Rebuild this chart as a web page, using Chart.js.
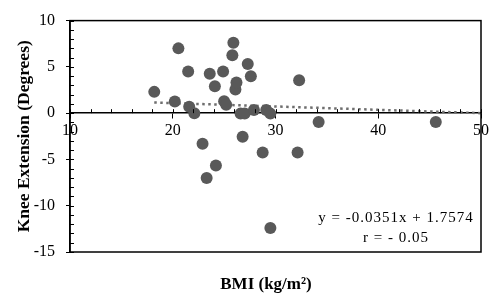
<!DOCTYPE html>
<html>
<head>
<meta charset="utf-8">
<script src="https://cdn.jsdelivr.net/npm/chart.js@4.4.0/dist/chart.umd.min.js"></script>
<style>
  html, body { margin: 0; padding: 0; background: #fff; }
  canvas { display: block; }
</style>
</head>
<body>
<canvas id="bmi-chart" width="497" height="296"></canvas>
<script>
// --- DATOS ---
const bmiValues  = [18.2, 20.2, 20.55, 21.5, 21.6, 22.1, 22.9, 23.3, 23.6, 24.1, 24.2, 24.9, 25.0, 25.2, 25.8, 25.9,
                    26.1, 26.2, 26.6, 26.8, 27.0, 27.3, 27.6, 27.9, 28.75, 29.1, 29.5, 29.5, 32.15, 32.3, 34.2, 45.6];
const kneeValues = [2.3, 1.25, 7.0, 4.5, 0.7, 0.0, -3.3, -7.0, 4.25, 2.9, -5.65, 4.5, 1.3, 0.9, 6.25, 7.6,
                    2.55, 3.3, -0.05, -2.55, -0.05, 5.3, 4.0, 0.35, -4.25, 0.35, -0.05, -12.4, -4.25, 3.55, -0.95, -0.95];
const trendBmi  = [18.2, 50];
const trendKnee = [1.15, 0.0];
const xTicks = [10, 20, 30, 40, 50];
const yTicks = [-15, -10, -5, 0, 5, 10];
const equationLines = ['y = -0.0351x + 1.7574', 'r = - 0.05'];
const xTitle = 'BMI (kg/m²)';

const SERIF = "'Liberation Serif', 'Times New Roman', serif";

// marco, marcas menores, título X y ecuación
const extrasPlugin = {
    id: 'extras',
    afterDraw(chart) {
        const { ctx, chartArea: a, scales } = chart;
        const xs = scales.x, ys = scales.y;
        ctx.save();
        ctx.strokeStyle = '#000';
        ctx.lineWidth = 1.5;
        ctx.strokeRect(a.left, a.top, a.right - a.left, a.bottom - a.top);

        ctx.lineWidth = 1;
        ctx.beginPath();
        for (let v = yTicks[0]; v <= yTicks[yTicks.length - 1]; v += 1) {
            const py = Math.round(ys.getPixelForValue(v)) + 0.5;
            ctx.moveTo(a.left, py);
            ctx.lineTo(a.left + 4, py);
        }
        const y0 = ys.getPixelForValue(0);
        for (let v = xTicks[0]; v <= xTicks[xTicks.length - 1]; v += 2) {
            const px = Math.round(xs.getPixelForValue(v)) + 0.5;
            ctx.moveTo(px, y0 - 4);
            ctx.lineTo(px, y0);
        }
        ctx.stroke();

        ctx.fillStyle = '#000';
        ctx.textAlign = 'center';
        ctx.textBaseline = 'middle';
        ctx.font = `bold 17px ${SERIF}`;
        ctx.fillText(xTitle, 266, 285);

        ctx.font = `15px ${SERIF}`;
        ctx.letterSpacing = '1px';
        ctx.fillText(equationLines[0], 396, 218);
        ctx.fillText(equationLines[1], 396, 238);
        ctx.restore();
    }
};

new Chart(document.getElementById('bmi-chart'), {
    type: 'scatter',
    data: {
        datasets: [
            {
                label: 'Knee Extension',
                data: bmiValues.map((x, i) => ({ x, y: kneeValues[i] })),
                backgroundColor: '#595959',
                borderWidth: 0,
                pointRadius: 6,
                order: 1
            },
            {
                label: 'Linear',
                data: trendBmi.map((x, i) => ({ x, y: trendKnee[i] })),
                showLine: true,
                borderColor: '#6e6e6e',
                borderWidth: 2.5,
                borderDash: [2.5, 3.5],
                pointRadius: 0,
                order: 2
            }
        ]
    },
    options: {
        responsive: false,
        animation: false,
        layout: { padding: { top: 17, right: 16, left: 0, bottom: 44 } },
        plugins: { legend: { display: false }, tooltip: { enabled: false } },
        scales: {
            x: {
                type: 'linear',
                position: { y: 0 },
                min: 10, max: 50,
                afterBuildTicks: s => { s.ticks = xTicks.map(v => ({ value: v })); },
                grid: { drawOnChartArea: false, drawTicks: true, tickLength: 5, color: '#000' },
                border: { color: '#000', width: 1.5 },
                ticks: { color: '#000', padding: 3, maxRotation: 0, font: { family: SERIF, size: 16 } }
            },
            y: {
                type: 'linear',
                min: -15, max: 10,
                afterBuildTicks: s => { s.ticks = yTicks.map(v => ({ value: v })); },
                afterFit: s => { s.width = 70; },
                grid: { drawOnChartArea: false, drawTicks: true, tickLength: 4, color: '#000' },
                border: { color: '#000', width: 1.5 },
                ticks: { color: '#000', padding: 11, font: { family: SERIF, size: 16 } },
                title: { display: true, text: 'Knee Extension (Degrees)', color: '#000', padding: { top: 14, bottom: 0 },
                         font: { family: SERIF, size: 17.5, weight: 'bold' } }
            }
        }
    },
    plugins: [extrasPlugin]
});
</script>
</body>
</html>
